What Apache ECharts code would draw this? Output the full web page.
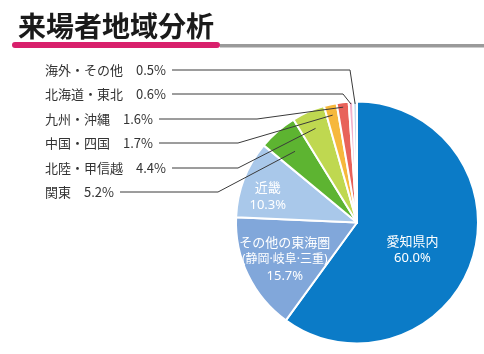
<!DOCTYPE html>
<html><head><meta charset="utf-8">
<script src="https://cdn.jsdelivr.net/npm/echarts@6/dist/echarts.min.js"></script>
<style>html,body{margin:0;padding:0;background:#fff}#c{width:484px;height:354px}</style>
</head><body><div id="c"></div>
<script>
var categories = ['愛知県内', 'その他の東海圏\n(静岡·岐阜·三重)', '近畿', '関東', '北陸・甲信越', '中国・四国', '九州・沖縄', '北海道・東北', '海外・その他'];
var values = [60.0, 15.7, 10.3, 5.2, 4.4, 1.7, 1.6, 0.6, 0.5];
var colors = ['#0b7bc7', '#81a7da', '#a9c8ea', '#5db431', '#bfd850', '#f6b83c', '#e8625a', '#f3b2cb', '#c6dcf1'];

// styling / layout (not data)
var CX = 357, CY = 222.5, R = 121;
var innerOffsets = [[-5, 8], [-15, 10], [-30, -3]];
var labelX = 45;
var labelY = {3: 192, 4: 168, 5: 143, 6: 119, 7: 94, 8: 70};
var bendX = {3: 218, 4: 238, 5: 238, 6: 257, 7: 343, 8: 350};
var inset = {3: 0.78, 4: 0.85, 5: 0.91, 6: 0.96, 7: 0.98, 8: 0.98};
var widths = {};

var innerFont = '"Noto Sans", "Noto Sans CJK JP"';
var data = values.map(function (v, i) {
  var d = {name: categories[i], value: v, itemStyle: {color: colors[i]}};
  if (i < 3) {
    d.label = {position: 'inside', color: '#fff', fontSize: 13, lineHeight: 16.5,
      fontFamily: innerFont, offset: innerOffsets[i],
      rich: {a: {color: '#fff', fontSize: 13, lineHeight: 16.5, fontFamily: innerFont},
             b: {color: '#fff', fontSize: 12, lineHeight: 16.5, fontFamily: innerFont}},
      formatter: function (p) {
        var parts = p.name.split('\n');
        var s = '{a|' + parts[0] + '}';
        for (var k = 1; k < parts.length; k++) s += '\n{b|' + parts[k] + '}';
        return s + '\n{a|' + p.value.toFixed(1) + '%}';
      }};
  } else {
    d.label = {position: 'outside', color: '#333', fontSize: 13, fontFamily: '"Noto Sans CJK JP"',
      formatter: function (p) { return p.name + '\u3000' + p.value.toFixed(1) + '%'; }};
  }
  d.labelLine = {show: false};
  return d;
});

var baseGraphic = [
  {id: 'gray', type: 'rect', shape: {x: 220, y: 44, width: 264, height: 3.5}, style: {fill: '#9a9a9a'}, z: 1},
  {id: 'pink', type: 'rect', shape: {x: 12, y: 42, width: 208, height: 6, r: 3}, style: {fill: '#d8206c'}, z: 2}
];

var chart = echarts.init(document.getElementById('c'), null, {renderer: 'canvas'});
chart.setOption({
  animation: false,
  title: {text: '来場者地域分析', left: 13, top: 7,
    textStyle: {fontFamily: '"Noto Sans CJK JP"', fontSize: 28, fontWeight: 'bold', color: '#1a1a1a'}},
  graphic: baseGraphic,
  series: [{
    type: 'pie',
    center: [CX, CY],
    radius: [0, R],
    startAngle: 90,
    clockwise: true,
    avoidLabelOverlap: false,
    itemStyle: {borderColor: '#fff', borderWidth: 2},
    labelLayout: function (p) {
      var i = p.dataIndex;
      if (i < 3) return;
      widths[i] = p.labelRect.width;
      return {x: labelX, y: labelY[i], align: 'left', verticalAlign: 'middle'};
    },
    data: data
  }]
});

// leader lines from the pie's own computed slice layout
var lines = [];
var sData = chart.getModel().getSeriesByIndex(0).getData();
for (var i = 3; i < values.length; i++) {
  var L = sData.getItemLayout(i);
  var mid = (L.startAngle + L.endAngle) / 2;
  var r = L.r * inset[i];
  var s = [L.cx + r * Math.cos(mid), L.cy + r * Math.sin(mid)];
  var y = labelY[i];
  var endX = labelX + (widths[i] || 100) + 6;
  lines.push({id: 'line' + i, type: 'polyline', z: 10,
    shape: {points: [s, [bendX[i], y], [endX, y]]},
    style: {stroke: '#3a3a3a', lineWidth: 1, fill: null}});
}
chart.setOption({graphic: baseGraphic.concat(lines)});
</script></body></html>
